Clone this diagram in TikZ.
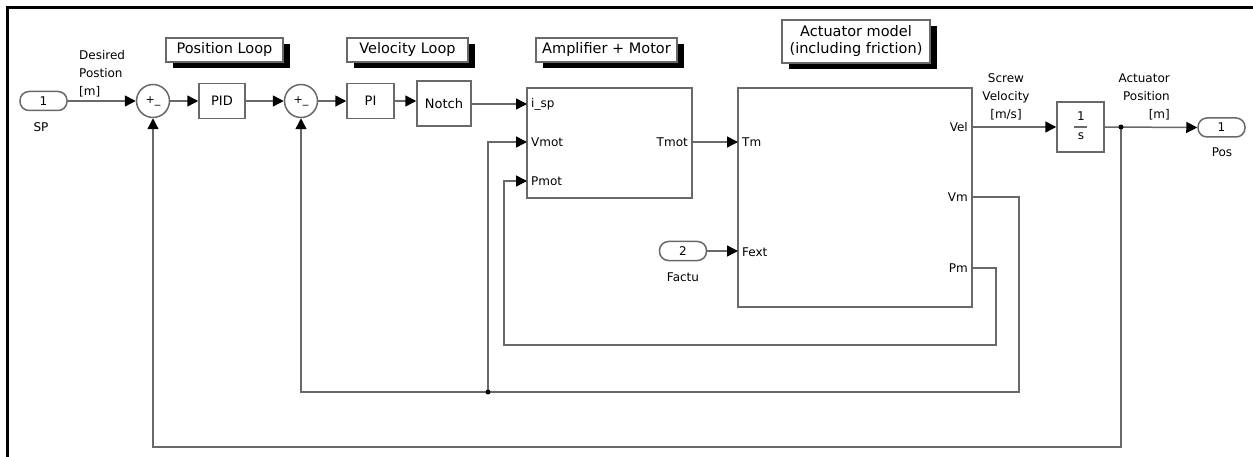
\documentclass[tikz,border=0pt]{standalone}
\usepackage{fontspec}
\setmainfont{DejaVu Sans}
\usetikzlibrary{arrows.meta}
\definecolor{wirecol}{RGB}{105,105,105}
\tikzset{
  wire/.style={draw=wirecol, line width=1.5pt},
  arr/.style={wire, -{Triangle[length=11pt,width=11pt,color=black,fill=black]}},
  blk/.style={draw=wirecol, line width=1.5pt, fill=white, inner sep=0pt, font=\fontsize{13}{15}\selectfont},
  port/.style={blk, rounded corners=9pt, minimum width=47pt, minimum height=19pt, font=\fontsize{12}{14}\selectfont},
  sumb/.style={circle, draw=wirecol, line width=1.5pt, fill=white, minimum size=33pt, inner sep=0pt, font=\fontsize{11}{12}\selectfont},
  note/.style={draw=wirecol, fill=white, line width=1.3pt, inner sep=0pt, align=center,
    font=\fontsize{14.5}{17}\selectfont},
  noteshadow/.style={fill=black, inner sep=0pt},
  lbl/.style={inner sep=0pt, font=\fontsize{12}{18}\selectfont},
  plbl/.style={inner sep=0pt, font=\fontsize{12}{14}\selectfont},
  dot/.style={fill=black},
}
\begin{document}
\begin{tikzpicture}[x=1pt,y=-1pt]
\useasboundingbox (0,0) rectangle (1253,457);
% frame
\draw[line width=3pt, black] (1253,7.5) -- (7.5,7.5) -- (7.5,457);

% annotations (shadow first, then box)
\node[noteshadow, minimum width=117pt, minimum height=24pt] (sposloop) at (231.5,56) {};
\node[note, minimum width=117pt, minimum height=24pt] (nposloop) at (224.5,50) {Position Loop};
\node[noteshadow, minimum width=121pt, minimum height=24pt] (svelloop) at (414.5,56) {};
\node[note, minimum width=121pt, minimum height=24pt] (nvelloop) at (407.5,50) {Velocity Loop};
\node[noteshadow, minimum width=141pt, minimum height=24pt] (samp) at (613.5,56) {};
\node[note, minimum width=141pt, minimum height=24pt] (namp) at (606.5,50) {Amplifier + Motor};
\node[noteshadow, minimum width=148pt, minimum height=43pt] (sact) at (863,47.5) {};
\node[note, minimum width=148pt, minimum height=43pt] (nact) at (856,41.5) {Actuator model\\(including friction)};

% blocks
\node[port] (sp) at (43.5,101) {1};
\node[lbl] (splbl) at (41,127) {SP};
\node[lbl, align=left, anchor=north west] (deslbl) at (79,50) {Desired\\Postion\\{[m]}};
\node[sumb] (s1) at (153,101) {+\_};
\node[blk, minimum width=46pt, minimum height=35pt] (pid) at (222,101) {PID};
\node[sumb] (s2) at (301,101) {+\_};
\node[blk, minimum width=47pt, minimum height=35pt] (pi) at (370.5,101) {PI};
\node[blk, minimum width=54pt, minimum height=45pt] (notch) at (444,103.5) {Notch};
\node[blk, minimum width=165pt, minimum height=110pt] (amp) at (609.5,143) {};
\node[blk, minimum width=234pt, minimum height=219pt] (act) at (855,197.5) {};
\node[blk, minimum width=47pt, minimum height=50pt] (integ) at (1080.5,127) {};
\node[plbl] (intnum) at (1081,116.5) {1};
\node[plbl] (intden) at (1081,136) {s};
\draw[wire, line width=1.3pt] ([xshift=-6.5pt]integ.center) -- ([xshift=6.5pt]integ.center);
\node[port] (pos) at (1221.5,127.5) {1};
\node[lbl] (poslbl) at (1222,152) {Pos};
\node[port] (factu) at (683,251) {2};
\node[lbl] (factulbl) at (683,277) {Factu};

% port labels
\node[plbl, anchor=west] (lisp) at (531,104) {i\_sp};
\node[plbl, anchor=west] (lvmot) at (531,142) {Vmot};
\node[plbl, anchor=west] (lpmot) at (531,181) {Pmot};
\node[plbl, anchor=east] (ltmot) at (688,142) {Tmot};
\node[plbl, anchor=west] (ltm) at (742,142) {Tm};
\node[plbl, anchor=west] (lfext) at (742,252) {Fext};
\node[plbl, anchor=east] (lvel) at (968,127) {Vel};
\node[plbl, anchor=east] (lvm) at (968,197) {Vm};
\node[plbl, anchor=east] (lpm) at (968,268) {Pm};

% signal labels
\node[lbl, align=center] (screwlbl) at (1006,97) {Screw\\Velocity\\{[m/s]}};
\node[lbl, align=right, anchor=east] (actposlbl) at (1170,97) {Actuator\\Position\\{[m]}};

% port coordinates
\coordinate (isp) at (527,104);
\coordinate (vmoti) at (527,142);
\coordinate (pmoti) at (527,181);
\coordinate (tmoto) at (692,142);
\coordinate (tmi) at (738,142);
\coordinate (fexti) at (738,251);
\coordinate (velo) at (972,127);
\coordinate (vmo) at (972,197);
\coordinate (pmo) at (972,268);
\coordinate (j1) at (1121,127);
\coordinate (j2) at (488,392);
\coordinate (c2) at (1019,392);
\coordinate (c3) at (996,345);
\coordinate (c4) at (504,345);
\coordinate (c5) at (153,447);

% forward path
\draw[arr] (sp.east) -- (s1.west);
\draw[arr] (s1.east) -- (pid.west);
\draw[arr] (pid.east) -- (s2.west);
\draw[arr] (s2.east) -- (pi.west);
\draw[arr] (pi.east) -- (notch.west |- pi.east);
\draw[arr] (notch.east |- isp) -- (isp);
\draw[arr] (tmoto) -- (tmi);
\draw[arr] (factu.east) -- (fexti);
\draw[arr] (velo) -- (integ.west);
\draw[arr] (integ.east) -- (pos.west);

% feedback paths
\draw[arr] (vmo) -| (c2) -| (s2.south);
\draw[arr] (j2) |- (vmoti);
\draw[arr] (pmo) -| (c3) -- (c4) |- (pmoti);
\draw[arr] (j1) |- (c5) -- (s1.south);

\fill[dot] (j1) circle (2.5);
\fill[dot] (j2) circle (2.5);
\end{tikzpicture}
\end{document}
